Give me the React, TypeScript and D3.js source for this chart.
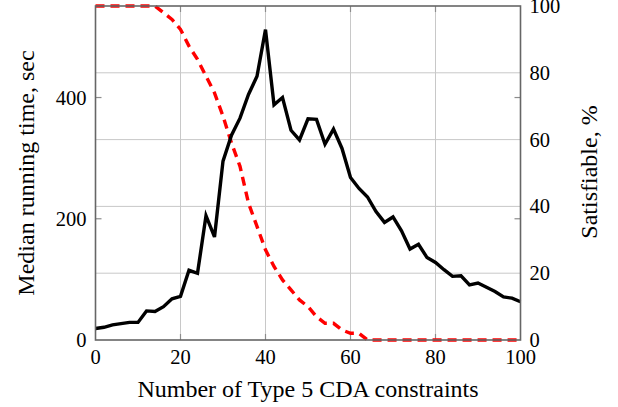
import React, { useEffect, useRef } from "react";
import * as d3 from "d3";

// x positions: number of Type 5 CDA constraints
const counts = d3.range(0, 101, 2);

// median running time, sec (left axis)
const runningTime = [
  19, 21, 25, 27, 29, 29, 48, 47, 55, 68,
  72, 115, 110, 205, 170, 295, 338, 366, 405, 435,
  512, 388, 400, 346, 330, 365, 364, 323, 348, 316,
  268, 250, 236, 212, 194, 203, 180, 150, 158, 136,
  128, 116, 105, 106, 91, 94, 87, 80, 71, 69,
  63,
];

// satisfiable, % (right axis)
const satisfiable = [
  100, 100, 100, 100, 100, 100, 100, 100, 98, 96,
  93, 88, 84, 79, 74, 67, 59, 52, 41, 34,
  27, 22, 18, 15, 12, 10, 7, 5, 5, 3,
  2, 2, 0, 0, 0, 0, 0, 0, 0, 0,
  0, 0, 0, 0, 0, 0, 0, 0, 0, 0,
  0,
];

const xTicks = [0, 20, 40, 60, 80, 100];
const leftTicks = [0, 200, 400];
const rightTicks = [0, 20, 40, 60, 80, 100];

function Chart() {
  const ref = useRef<SVGSVGElement | null>(null);

  useEffect(() => {
    const width = 618;
    const height = 407;
    const margin = { top: 6, right: 97.5, bottom: 67, left: 95.5 };
    const font = "Liberation Serif, Tinos, Times New Roman, DejaVu Serif, serif";

    const svg = d3.select(ref.current);
    svg.selectAll("*").remove();
    svg.attr("width", width).attr("height", height);

    const x = d3.scaleLinear([0, 100], [margin.left, width - margin.right]);
    const yL = d3.scaleLinear([0, 551], [height - margin.bottom, margin.top]);
    const yR = d3.scaleLinear([0, 100], [height - margin.bottom, margin.top]);

    const x0 = x(0), x1 = x(100), y0 = yR(0), y1 = yR(100);

    // grid
    const grid = svg.append("g").attr("stroke", "#c8c8c8").attr("stroke-width", 1);
    grid.selectAll(".gx")
      .data(xTicks.slice(1, -1))
      .join("line")
      .attr("x1", d => x(d)).attr("x2", d => x(d))
      .attr("y1", y1).attr("y2", y0);
    grid.selectAll(".gy")
      .data(rightTicks.slice(1, -1))
      .join("line")
      .attr("x1", x0).attr("x2", x1)
      .attr("y1", d => yR(d)).attr("y2", d => yR(d));

    // tick marks (mirrored on both sides)
    const ticks = svg.append("g").attr("stroke", "#8c8c8c").attr("stroke-width", 1.2);
    const tl = 6;
    xTicks.slice(1, -1).forEach(d => {
      ticks.append("line").attr("x1", x(d)).attr("x2", x(d)).attr("y1", y0).attr("y2", y0 - tl);
      ticks.append("line").attr("x1", x(d)).attr("x2", x(d)).attr("y1", y1).attr("y2", y1 + tl);
    });
    leftTicks.slice(1).forEach(d => {
      ticks.append("line").attr("x1", x0).attr("x2", x0 + tl).attr("y1", yL(d)).attr("y2", yL(d));
      ticks.append("line").attr("x1", x1).attr("x2", x1 - tl).attr("y1", yL(d)).attr("y2", yL(d));
    });

    // lines
    const lineL = d3.line<number>().x((d, i) => x(counts[i])).y(d => yL(d));
    const lineR = d3.line<number>().x((d, i) => x(counts[i])).y(d => yR(d));

    svg.append("path")
      .datum(satisfiable)
      .attr("fill", "none")
      .attr("stroke", "#ff0000")
      .attr("stroke-width", 3.4)
      .attr("stroke-dasharray", "9 6")
      .attr("d", lineR);

    svg.append("path")
      .datum(runningTime)
      .attr("fill", "none")
      .attr("stroke", "#000")
      .attr("stroke-width", 3.4)
      .attr("stroke-linejoin", "miter")
      .attr("d", lineL);

    // frame
    svg.append("rect")
      .attr("x", x0).attr("y", y1)
      .attr("width", x1 - x0).attr("height", y0 - y1)
      .attr("fill", "none")
      .attr("stroke", "#666")
      .attr("stroke-width", 1.6);

    // tick labels
    const labels = svg.append("g")
      .attr("font-family", font)
      .attr("font-size", 20.5)
      .attr("fill", "#000");

    labels.selectAll(".xl")
      .data(xTicks)
      .join("text")
      .attr("x", d => x(d))
      .attr("y", 363.5)
      .attr("text-anchor", "middle")
      .text(d => d);

    labels.selectAll(".yl")
      .data(leftTicks)
      .join("text")
      .attr("x", x0 - 9)
      .attr("y", d => yL(d))
      .attr("dy", "0.34em")
      .attr("text-anchor", "end")
      .text(d => d);

    labels.selectAll(".yr")
      .data(rightTicks)
      .join("text")
      .attr("x", x1 + 9)
      .attr("y", d => yR(d))
      .attr("dy", "0.34em")
      .attr("text-anchor", "start")
      .text(d => d);

    // axis titles
    const titles = svg.append("g")
      .attr("font-family", font)
      .attr("font-size", 24)
      .attr("fill", "#000");

    titles.append("text")
      .attr("x", (x0 + x1) / 2)
      .attr("y", 396.5)
      .attr("text-anchor", "middle")
      .text("Number of Type 5 CDA constraints");

    titles.append("text")
      .attr("transform", `translate(33.5, ${(y0 + y1) / 2}) rotate(-90)`)
      .attr("text-anchor", "middle")
      .text("Median running time, sec");

    titles.append("text")
      .attr("transform", `translate(597, ${(y0 + y1) / 2 - 1}) rotate(-90)`)
      .attr("text-anchor", "middle")
      .text("Satisfiable, %");
  }, []);

  return <svg ref={ref} style={{ position: "absolute", left: 0, top: 0 }}></svg>;
}

export default function App() {
  return (
    <React.Fragment>
      <Chart />
    </React.Fragment>
  );
}
